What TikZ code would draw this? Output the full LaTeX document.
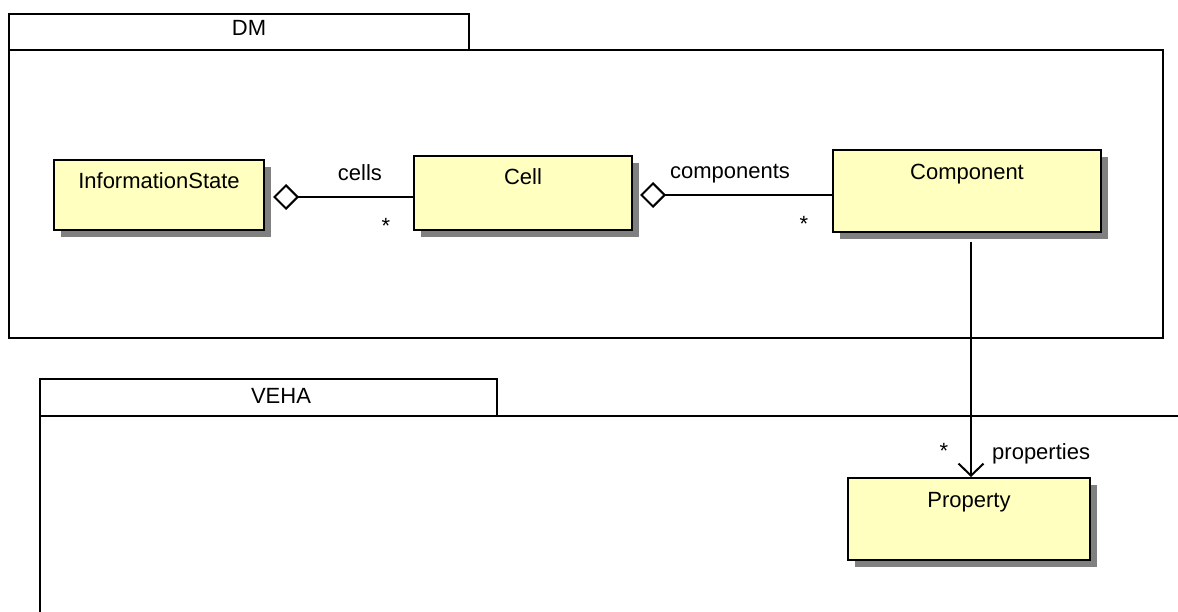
\documentclass[tikz,border=0pt]{standalone}
\usepackage{fontspec}
\setmainfont{Liberation Sans}
\usetikzlibrary{arrows.meta,shadows}
\definecolor{clsfill}{RGB}{255,255,192}
\definecolor{shadowgray}{RGB}{128,128,128}
\tikzset{
  cls/.style={draw=black, line width=2pt, fill=clsfill, inner sep=0pt,
    drop shadow={shadow xshift=7pt, shadow yshift=-7pt, fill=shadowgray, opacity=1}},
  pkg/.style={draw=black, line width=2pt, inner sep=0pt},
  lbl/.style={font=\fontsize{22}{26}\selectfont, inner sep=0pt},
  conn/.style={draw=black, line width=2pt},
  agg/.style={conn, {Diamond[open, length=26pt, width=26pt, line width=2pt]}-},
  nav/.style={conn, -{Straight Barb[length=12pt, width=25pt, line width=2pt]}},
}
\begin{document}
\begin{tikzpicture}[x=1pt,y=-1pt]
\useasboundingbox (0,0) rectangle (1178,612);
% DM package
\node[pkg, minimum width=460pt, minimum height=36pt] (dmtab) at (239,32) {};
\node[pkg, minimum width=1154pt, minimum height=288pt] (dmbody) at (586,194) {};
\node[lbl, anchor=base] (dmlbl) at (249,36) {DM};
% VEHA package
\node[pkg, minimum width=457pt, minimum height=37pt] (vehatab) at (268.5,397.5) {};
\coordinate (vtl) at (40,416);
\coordinate (vtr) at (1178,416);
\coordinate (vbl) at (40,612);
\draw[line width=2pt] (vtr) -- (vtl) -- (vbl);
\node[lbl, anchor=base] (vehalbl) at (281,403) {VEHA};
% classes
\node[cls, minimum width=210pt, minimum height=70pt] (info) at (159,195) {};
\node[lbl, anchor=base] (infolbl) at (159,189) {InformationState};
\node[cls, minimum width=218pt, minimum height=74pt] (cell) at (523,193) {};
\node[lbl, anchor=base] (celllbl) at (523,185) {Cell};
\node[cls, minimum width=268pt, minimum height=82pt] (comp) at (967,191) {};
\node[lbl, anchor=base] (complbl) at (967,180) {Component};
\node[cls, minimum width=242pt, minimum height=82pt] (prop) at (969,519) {};
\node[lbl, anchor=base] (proplbl) at (969,507) {Property};
% connectors
\draw[agg, shorten <=8pt] ([yshift=-2pt]info.east) -- ([yshift=-2pt]info.east -| cell.west);
\draw[agg, shorten <=7pt] ([yshift=-2pt]cell.east) -- ([yshift=-2pt]cell.east -| comp.west);
\draw[nav, shorten <=9pt] ([xshift=4pt]comp.south) -- ([xshift=4pt]comp.south |- prop.north);
% labels
\node[lbl, anchor=base] (cellsl) at (360,181) {cells};
\node[lbl] (cellsm) at (386,226) {*};
\node[lbl, anchor=base] (compsl) at (730,179) {components};
\node[lbl] (compsm) at (804,224) {*};
\node[lbl] (propm) at (944,451) {*};
\node[lbl, anchor=base west] (propsl) at (992,459) {properties};
\end{tikzpicture}
\end{document}
